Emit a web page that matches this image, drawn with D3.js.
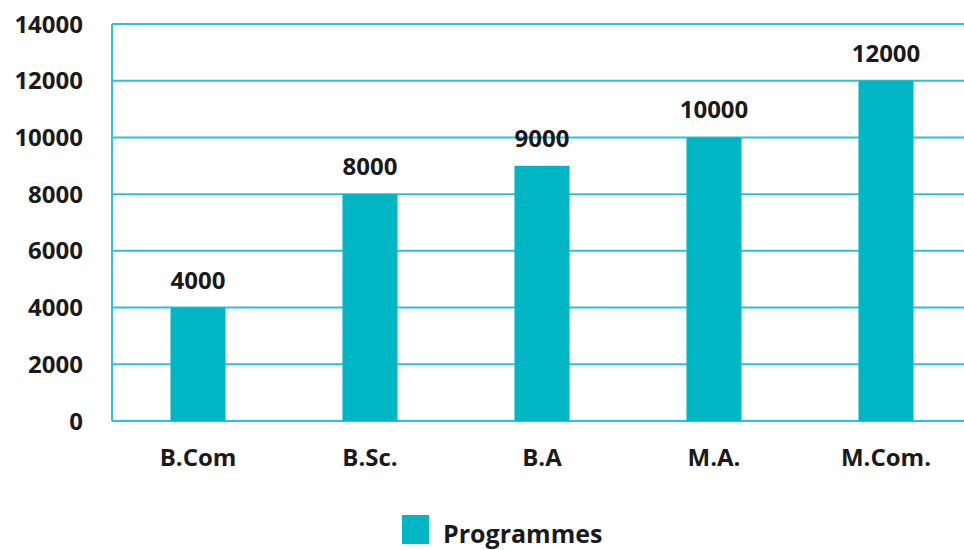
<!DOCTYPE html>
<html>
<head>
<meta charset="utf-8">
<script src="https://cdn.jsdelivr.net/npm/d3@7"></script>
<style>
  body { margin: 0; background: #fff; }
  text { font-family: "Open Sans", Lato, sans-serif; font-weight: bold; fill: #1a1a1a; }
</style>
</head>
<body>
<div id="chart"></div>
<script>
const categories = ["B.Com", "B.Sc.", "B.A", "M.A.", "M.Com."];
const values = [4000, 8000, 9000, 10000, 12000];
const yTicks = [0, 2000, 4000, 6000, 8000, 10000, 12000, 14000];
const seriesName = "Programmes";

const width = 964, height = 550;
const margin = { top: 24, right: -8, bottom: 129, left: 112 };
const barColor = "#00b6c4";
const gridColor = "#2ac3cf";

const svg = d3.select("#chart").append("svg")
    .attr("width", width)
    .attr("height", height);

const x = d3.scaleBand()
    .domain(categories)
    .range([margin.left, width - margin.right])
    .paddingInner(0.68)
    .paddingOuter(0.34);

const y = d3.scaleLinear()
    .domain([0, 14000])
    .range([height - margin.bottom, margin.top]);

// gridlines
svg.append("g")
  .selectAll("line")
  .data(yTicks)
  .enter().append("line")
    .attr("x1", margin.left)
    .attr("x2", width - margin.right)
    .attr("y1", d => y(d))
    .attr("y2", d => y(d))
    .attr("stroke", gridColor)
    .attr("stroke-width", 2);

// left axis line
svg.append("line")
    .attr("x1", margin.left).attr("x2", margin.left)
    .attr("y1", y(0)).attr("y2", y(14000))
    .attr("stroke", gridColor)
    .attr("stroke-width", 2);

// y tick labels
svg.append("g")
  .selectAll("text")
  .data(yTicks)
  .enter().append("text")
    .attr("x", 83)
    .attr("y", d => y(d))
    .attr("dy", "0.36em")
    .attr("text-anchor", "end")
    .attr("font-size", 24)
    .text(d => d);

// bars
svg.append("g")
  .selectAll("rect")
  .data(values)
  .enter().append("rect")
    .attr("x", (d, i) => x(categories[i]))
    .attr("width", x.bandwidth())
    .attr("y", d => y(d))
    .attr("height", d => y(0) - y(d))
    .attr("fill", barColor);

// value labels
svg.append("g")
  .selectAll("text")
  .data(values)
  .enter().append("text")
    .attr("x", (d, i) => x(categories[i]) + x.bandwidth() / 2)
    .attr("y", d => y(d) - 19)
    .attr("text-anchor", "middle")
    .attr("font-size", 24)
    .text(d => d);

// category labels
svg.append("g")
  .selectAll("text")
  .data(categories)
  .enter().append("text")
    .attr("x", d => x(d) + x.bandwidth() / 2)
    .attr("y", 466)
    .attr("text-anchor", "middle")
    .attr("font-size", 24)
    .text(d => d);

// legend
const legend = svg.append("g").attr("transform", "translate(402,515)");
legend.append("rect")
    .attr("width", 27).attr("height", 29)
    .attr("fill", barColor);
legend.append("text")
    .attr("x", 41).attr("y", 28)
    .attr("font-size", 25)
    .text(seriesName);
</script>
</body>
</html>
